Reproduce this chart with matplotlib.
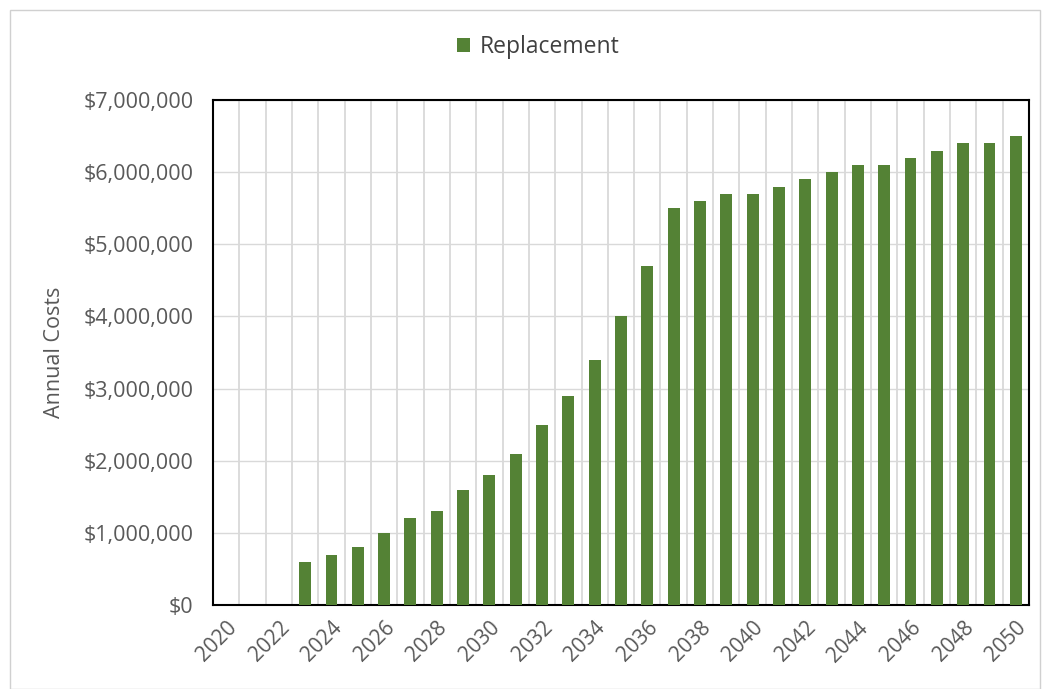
import matplotlib.pyplot as plt
from matplotlib.ticker import FuncFormatter, MultipleLocator
from matplotlib.patches import Rectangle

# Years and annual replacement costs
years = list(range(2020, 2051))
replacement = [0, 0, 0, 600000, 700000, 800000, 1000000, 1200000, 1300000,
               1600000, 1800000, 2100000, 2500000, 2900000, 3400000, 4000000,
               4700000, 5500000, 5600000, 5700000, 5700000, 5800000, 5900000,
               6000000, 6100000, 6100000, 6200000, 6300000, 6400000, 6400000,
               6500000]

plt.rcParams['font.family'] = ['Open Sans', 'DejaVu Sans']

fig = plt.figure(figsize=(10.47, 6.89), dpi=100)
ax = fig.add_axes([213 / 1047, 1 - 605 / 689, 816 / 1047, 505 / 689])

# outer chart border
fig.patches.append(Rectangle((10 / 1047, 0), 1030 / 1047, 679 / 689,
                             transform=fig.transFigure, fill=False,
                             edgecolor='#d0d0d0', linewidth=1))

x = list(range(len(years)))
ax.bar(x, replacement, width=0.45, color='#548235', label='Replacement', zorder=3)

ax.set_xlim(-0.5, len(years) - 0.5)
ax.set_ylim(0, 7000000)

# gridlines: horizontal at each $1M, vertical at category boundaries
ax.yaxis.set_major_locator(MultipleLocator(1000000))
ax.yaxis.set_major_formatter(FuncFormatter(lambda v, p: f"${v:,.0f}"))
ax.grid(axis='y', color='#d9d9d9', linewidth=1, zorder=0)
for b in range(1, len(years)):
    ax.axvline(b - 0.5, color='#d9d9d9', linewidth=1.3, zorder=0)

ax.set_xticks(x[::2])
ax.set_xticklabels([str(y) for y in years[::2]], rotation=45, ha='right',
                   rotation_mode='anchor', fontsize=15, color='#595959')
ax.tick_params(axis='y', labelsize=15.5, colors='#595959', length=0, pad=14)
ax.tick_params(axis='x', length=0, pad=9)

for s in ax.spines.values():
    s.set_color('black')
    s.set_linewidth(1.5)

ax.set_ylabel('Annual Costs', fontsize=15.5, color='#595959')
ax.yaxis.set_label_coords(-148 / 816, 0.5)

fig.legend(loc='center', bbox_to_anchor=(538 / 1047, 1 - 47 / 689), frameon=False,
           fontsize=16.5, handlelength=0.6, handleheight=0.6, handletextpad=0.4,
           labelcolor='#404040', borderpad=0)

fig.savefig('out.png', dpi=100)
